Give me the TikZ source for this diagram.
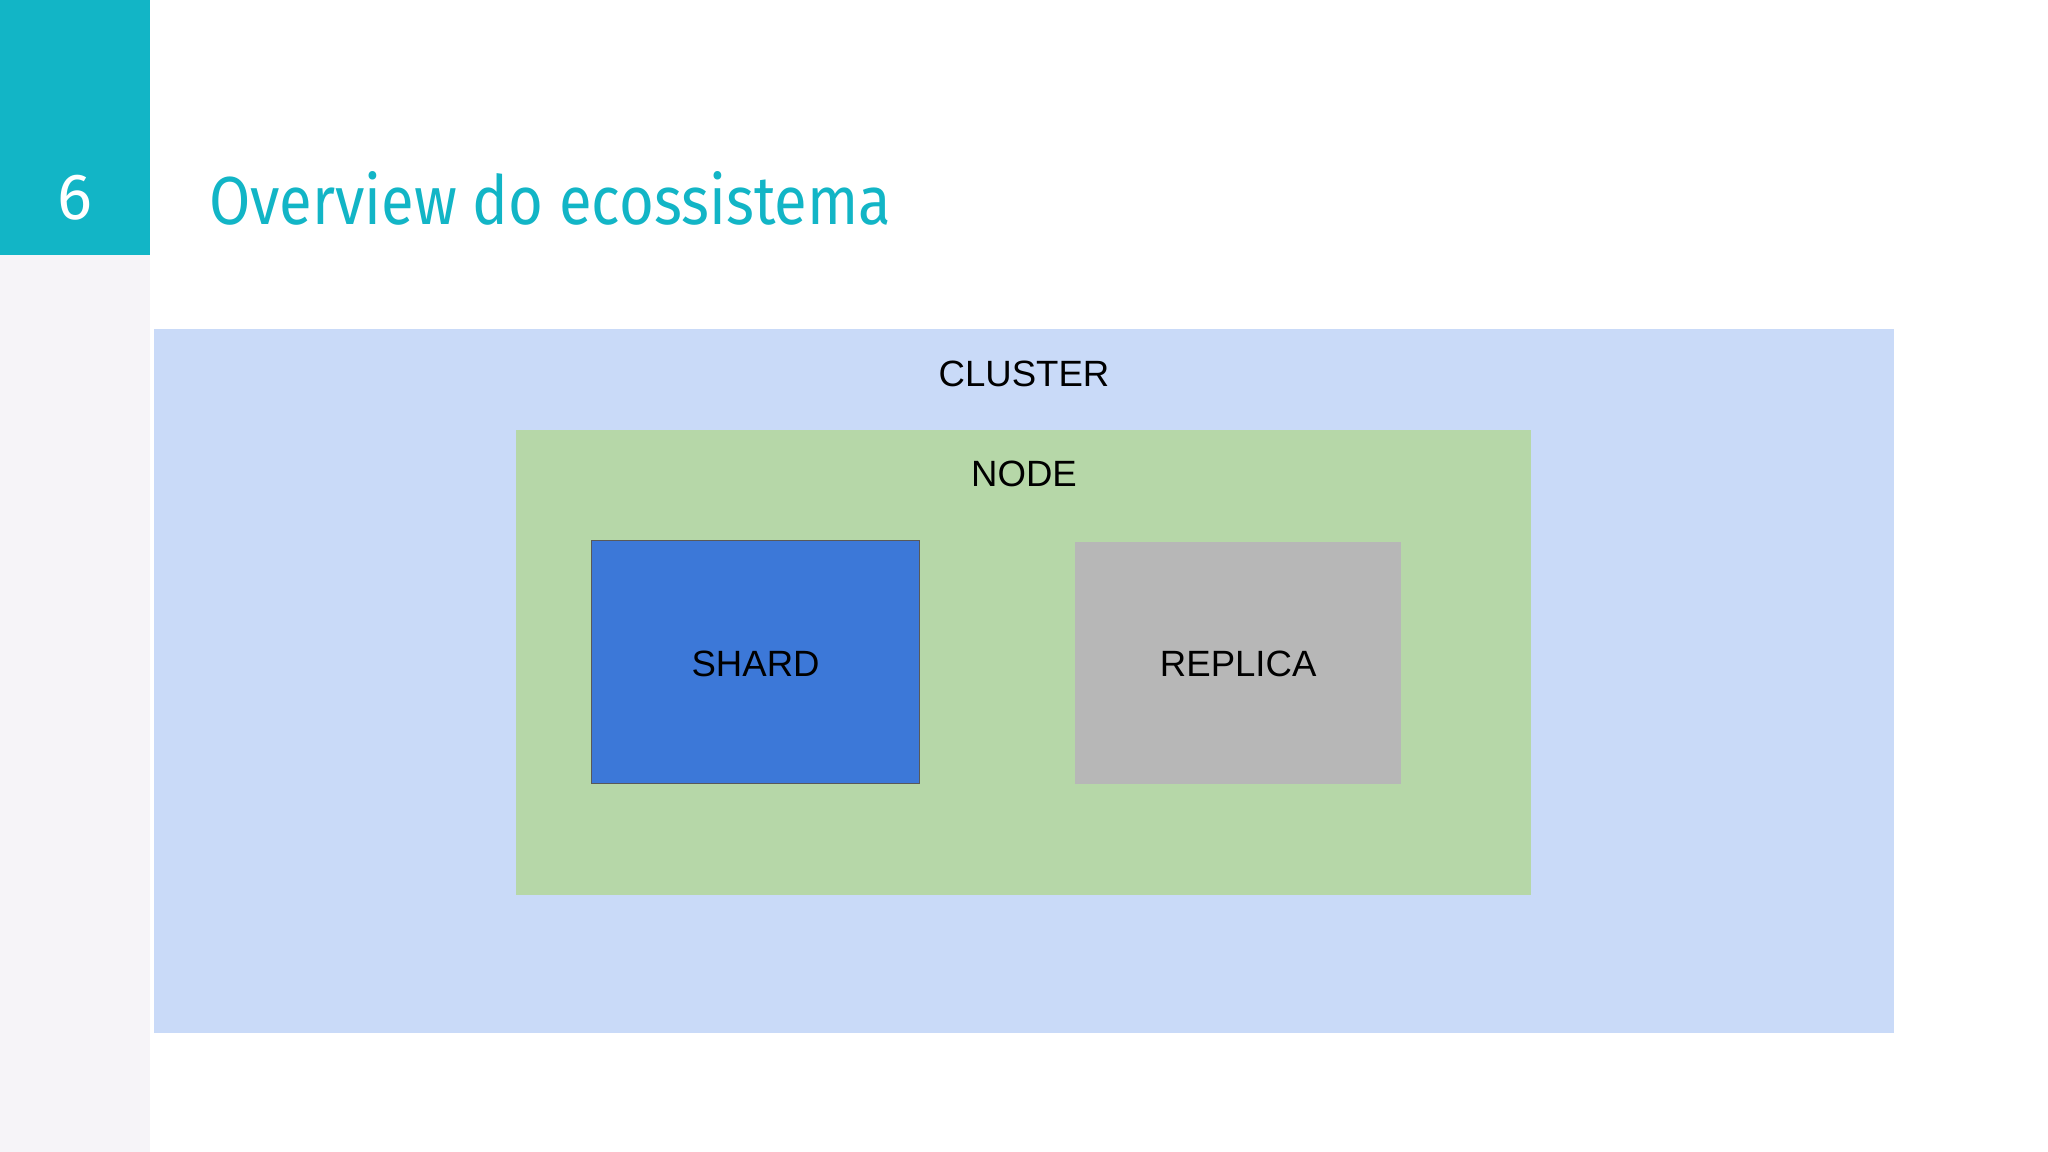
\documentclass[tikz,border=0pt]{standalone}
\usepackage{fontspec}
\setmainfont{Liberation Sans}
\newfontfamily\titlefont{Fira Sans}
\definecolor{teal1}{HTML}{12B5C6}
\definecolor{strip}{HTML}{F6F4F8}
\definecolor{clus}{HTML}{C9DAF8}
\definecolor{nodeg}{HTML}{B6D7A8}
\definecolor{shardb}{HTML}{3C78D8}
\definecolor{repg}{HTML}{B7B7B7}
\tikzset{lbl/.style={font=\fontsize{28}{30}\selectfont, text=black, inner sep=0pt}}
\begin{document}
\begin{tikzpicture}[x=1pt,y=-1pt]
\useasboundingbox (0,0) rectangle (1568,882);
\fill[white] (0,0) rectangle (1568,882);
\fill[strip] (0,0) rectangle (115,882);
\fill[teal1] (0,0) rectangle (115,195);
\node[text=white, font=\titlefont\fontsize{50}{55}\selectfont, inner sep=0pt] (num) at (57,151) {6};
\node[anchor=west, text=teal1, font=\titlefont\fontsize{52}{58}\selectfont, inner sep=0pt, xscale=0.88] (title) at (160,152) {Overview do ecossistema};
\fill[clus] (118,252) rectangle (1450,791);
\node[lbl] (cl) at (784,286) {CLUSTER};
\fill[nodeg] (395,329) rectangle (1172,685);
\node[lbl] (nd) at (784,363) {NODE};
\draw[fill=shardb, draw=black!65, line width=1pt] (453,414) rectangle (704,600);
\node[lbl] (sh) at (578.5,508) {SHARD};
\fill[repg] (823,415) rectangle (1073,600);
\node[lbl] (rp) at (948,508) {REPLICA};
\end{tikzpicture}
\end{document}
